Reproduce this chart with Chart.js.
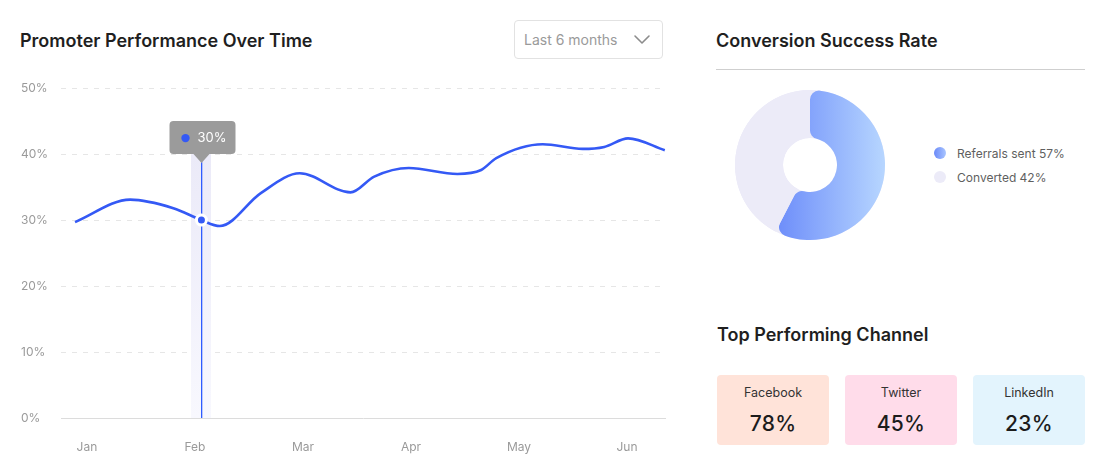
<!DOCTYPE html>
<html>
<head>
<meta charset="utf-8">
<script src="https://cdn.jsdelivr.net/npm/chart.js@4.4.1/dist/chart.umd.min.js"></script>
<style>
  html, body { margin: 0; padding: 0; background: #fff; }
  body { width: 1106px; height: 476px; position: relative; overflow: hidden; font-family: Inter, "Noto Sans", sans-serif; }
  .title { position: absolute; font-size: 18px; font-weight: 600; color: #1f1f1f; line-height: 20px; letter-spacing: 0; }
  .dropdown { position: absolute; left: 514px; top: 20px; width: 147px; height: 37px; border: 1px solid #e2e2e2; border-radius: 4px; box-sizing: content-box; }
  .dropdown span { position: absolute; left: 9px; top: 10px; font-size: 14px; color: #9a9a9a; line-height: 18px; }
  .dropdown svg { position: absolute; left: 118px; top: 12px; }
  .divider { position: absolute; left: 716px; top: 69px; width: 369px; height: 1px; background: #cfcfcf; }
  #lineWrap { position: absolute; left: 0; top: 70px; width: 680px; height: 400px; }
  #donutWrap { position: absolute; left: 735px; top: 90px; width: 150px; height: 150px; }
  #legend { position: absolute; left: 934px; top: 141px; }
  .lg { display: flex; align-items: center; height: 24px; font-size: 12px; color: #5f5f5f; }
  .lg i { display: inline-block; width: 12px; height: 12px; border-radius: 50%; margin-right: 11px; }
  .card { position: absolute; top: 375px; width: 112px; height: 70px; border-radius: 4px; text-align: center; }
  .card .n { position: absolute; left: 0; right: 0; top: 10px; font-size: 12.5px; color: #333; line-height: 16px; }
  .card .v { position: absolute; left: 0; right: 0; top: 36px; font-size: 21px; font-weight: 500; color: #1c1c1c; line-height: 26px; letter-spacing: 0.3px; }
</style>
</head>
<body>
<div class="title" style="left:20px; top:31px;">Promoter Performance Over Time</div>
<div class="dropdown"><span>Last 6 months</span>
  <svg width="18" height="14" viewBox="0 0 18 14"><path d="M2 3 L9 10 L16 3" fill="none" stroke="#8c8c8c" stroke-width="1.6" stroke-linecap="round" stroke-linejoin="round"/></svg>
</div>
<div id="lineWrap"><canvas id="lineChart"></canvas></div>

<div class="title" style="left:716px; top:31px;">Conversion Success Rate</div>
<div class="divider"></div>
<div id="donutWrap"><canvas id="donutChart"></canvas></div>
<div id="legend"></div>

<div class="title" style="left:717px; top:325px;">Top Performing Channel</div>
<div id="cards"></div>

<script>
// ---- Data ----
const monthLabels = ['Jan', 'Feb', 'Mar', 'Apr', 'May', 'Jun'];
const monthTicks = [0, 1, 2, 3, 4, 5];
const timePoints = [-0.11, 0.40, 0.80, 1.06, 1.23, 1.61, 1.97, 2.44, 2.66, 2.98, 3.43, 3.65, 3.79, 4.22, 4.59, 4.79, 5.01, 5.35];
const performanceRates = [29.7, 33.1, 31.8, 30.0, 29.1, 34.1, 37.1, 34.2, 36.6, 37.9, 37.0, 37.6, 39.4, 41.5, 40.8, 41.1, 42.4, 40.6];
const highlightIndex = 3;
const yTicks = [0, 10, 20, 30, 40, 50];

const conversionLabels = ['Referrals sent', 'Converted'];
const conversionValues = [57, 42];

const channelNames = ['Facebook', 'Twitter', 'LinkedIn'];
const channelValues = [78, 45, 23];

// ---- Styles ----
const LINE_COLOR = '#3459f5';
const cardColors = ['#ffe3d9', '#ffdcea', '#e3f4fd'];
const cardLefts = [717, 845, 973];

// ---- Line chart ----
const highlightPlugin = {
  id: 'highlight',
  beforeDatasetsDraw(chart) {
    const pt = chart.getDatasetMeta(0).data[highlightIndex];
    const { ctx, chartArea } = chart;
    const x = Math.round(pt.x);
    const bandTop = pt.y - 66;
    ctx.save();
    const g = ctx.createLinearGradient(0, bandTop, 0, chartArea.bottom);
    g.addColorStop(0, '#ebeaf8');
    g.addColorStop(1, '#f8f8fe');
    ctx.fillStyle = g;
    ctx.fillRect(x - 10, bandTop, 20, chartArea.bottom - bandTop);
    ctx.restore();
    ctx.save();
    ctx.setLineDash([]);
    ctx.globalAlpha = 1;
    ctx.fillStyle = '#2f5cff';
    ctx.fillRect(x, pt.y - 58, 1.3, chartArea.bottom - (pt.y - 58));
    ctx.restore();
  },
  afterDatasetsDraw(chart) {
    const pt = chart.getDatasetMeta(0).data[highlightIndex];
    const { ctx } = chart;
    const x = Math.round(pt.x) + 0.5;
    const bottom = pt.y - 66, top = bottom - 33, left = x - 32, w = 66, r = 4;
    ctx.save();
    ctx.fillStyle = '#9b9b9b';
    ctx.beginPath();
    ctx.moveTo(left + r, top);
    ctx.lineTo(left + w - r, top);
    ctx.quadraticCurveTo(left + w, top, left + w, top + r);
    ctx.lineTo(left + w, bottom - r);
    ctx.quadraticCurveTo(left + w, bottom, left + w - r, bottom);
    ctx.lineTo(x + 8, bottom);
    ctx.lineTo(x, bottom + 9);
    ctx.lineTo(x - 8, bottom);
    ctx.lineTo(left + r, bottom);
    ctx.quadraticCurveTo(left, bottom, left, bottom - r);
    ctx.lineTo(left, top + r);
    ctx.quadraticCurveTo(left, top, left + r, top);
    ctx.closePath();
    ctx.fill();
    ctx.fillStyle = LINE_COLOR;
    ctx.beginPath();
    ctx.arc(x - 16, top + 17, 4.2, 0, Math.PI * 2);
    ctx.fill();
    ctx.fillStyle = '#ffffff';
    ctx.font = '13px Inter, sans-serif';
    ctx.textBaseline = 'middle';
    ctx.textAlign = 'left';
    ctx.fillText(Math.round(performanceRates[highlightIndex]) + '%', x - 4, top + 17);
    ctx.restore();
  }
};

new Chart(document.getElementById('lineChart'), {
  type: 'line',
  data: {
    datasets: [{
      data: timePoints.map((t, i) => ({ x: t, y: performanceRates[i] })),
      borderColor: LINE_COLOR,
      borderWidth: 2.6,
      cubicInterpolationMode: 'monotone',
      fill: false,
      pointRadius: (c) => c.dataIndex === highlightIndex ? 5 : 0,
      pointBackgroundColor: LINE_COLOR,
      pointBorderColor: '#ffffff',
      pointBorderWidth: 3,
      clip: false
    }]
  },
  options: {
    responsive: true,
    maintainAspectRatio: false,
    animation: false,
    events: [],
    layout: { padding: { left: 21, top: 6, right: 15, bottom: 16 } },
    plugins: { legend: { display: false }, tooltip: { enabled: false } },
    scales: {
      x: {
        type: 'linear',
        min: -0.24,
        max: 5.352,
        afterBuildTicks: (axis) => { axis.ticks = monthTicks.map(v => ({ value: v })); },
        afterFit: (scale) => { scale.height = 36; },
        grid: { display: false, drawTicks: false },
        border: { display: true, color: '#dcdcdc', width: 1 },
        ticks: {
          callback: (v) => monthLabels[v],
          color: '#9a9a9a',
          font: { family: 'Inter', size: 12 },
          padding: 22,
          maxRotation: 0,
          autoSkip: false
        }
      },
      y: {
        min: 0,
        max: 50,
        afterBuildTicks: (axis) => { axis.ticks = yTicks.map(v => ({ value: v })); },
        afterFit: (scale) => { scale.width = 40; },
        grid: {
          color: (c) => c.tick && c.tick.value === 0 ? 'rgba(0,0,0,0)' : '#e6e6e6',
          drawTicks: false
        },
        border: { display: false, dash: [5, 6] },
        ticks: {
          callback: (v) => v + '%',
          color: '#9a9a9a',
          font: { family: 'Inter', size: 12 },
          crossAlign: 'far',
          padding: 11
        }
      }
    }
  },
  plugins: [highlightPlugin]
});

// ---- Doughnut chart ----
function blueGradient(ctx, area) {
  const g = ctx.createLinearGradient(area.left + area.width * 0.3, 0, area.right, 0);
  g.addColorStop(0, '#6f8ffa');
  g.addColorStop(1, '#b7d6ff');
  return g;
}

const trackPlugin = {
  id: 'track',
  beforeDatasetsDraw(chart) {
    const arc = chart.getDatasetMeta(0).data[0];
    if (!arc) return;
    const { ctx } = chart;
    ctx.save();
    ctx.fillStyle = '#ecebf8';
    ctx.beginPath();
    ctx.arc(arc.x, arc.y, arc.outerRadius, 0, Math.PI * 2);
    ctx.arc(arc.x, arc.y, arc.innerRadius, 0, Math.PI * 2, true);
    ctx.fill();
    ctx.restore();
  }
};

const donut = new Chart(document.getElementById('donutChart'), {
  type: 'doughnut',
  data: {
    labels: conversionLabels,
    datasets: [{
      data: conversionValues,
      backgroundColor: (c) => {
        if (c.dataIndex === 1) return '#ecebf8';
        const area = c.chart.chartArea;
        if (!area) return '#8aa6fb';
        return blueGradient(c.chart.ctx, area);
      },
      borderWidth: 0,
      borderRadius: (c) => c.dataIndex === 0 ? 9 : 0
    }]
  },
  options: {
    responsive: true,
    maintainAspectRatio: false,
    animation: false,
    events: [],
    cutout: '36%',
    plugins: { legend: { display: false }, tooltip: { enabled: false } }
  },
  plugins: [trackPlugin]
});

// HTML legend from chart data
const legendEl = document.getElementById('legend');
donut.data.labels.forEach((lab, i) => {
  const row = document.createElement('div');
  row.className = 'lg';
  const dot = document.createElement('i');
  dot.style.background = i === 0 ? 'linear-gradient(90deg, #6a89f8, #a9c5ff)' : '#ecebf8';
  row.appendChild(dot);
  row.appendChild(document.createTextNode(lab + ' ' + donut.data.datasets[0].data[i] + '%'));
  legendEl.appendChild(row);
});

// Channel cards
const cardsEl = document.getElementById('cards');
channelNames.forEach((name, i) => {
  const c = document.createElement('div');
  c.className = 'card';
  c.style.left = cardLefts[i] + 'px';
  c.style.background = cardColors[i];
  c.innerHTML = '<div class="n"></div><div class="v"></div>';
  c.querySelector('.n').textContent = name;
  c.querySelector('.v').textContent = channelValues[i] + '%';
  cardsEl.appendChild(c);
});
</script>
</body>
</html>
